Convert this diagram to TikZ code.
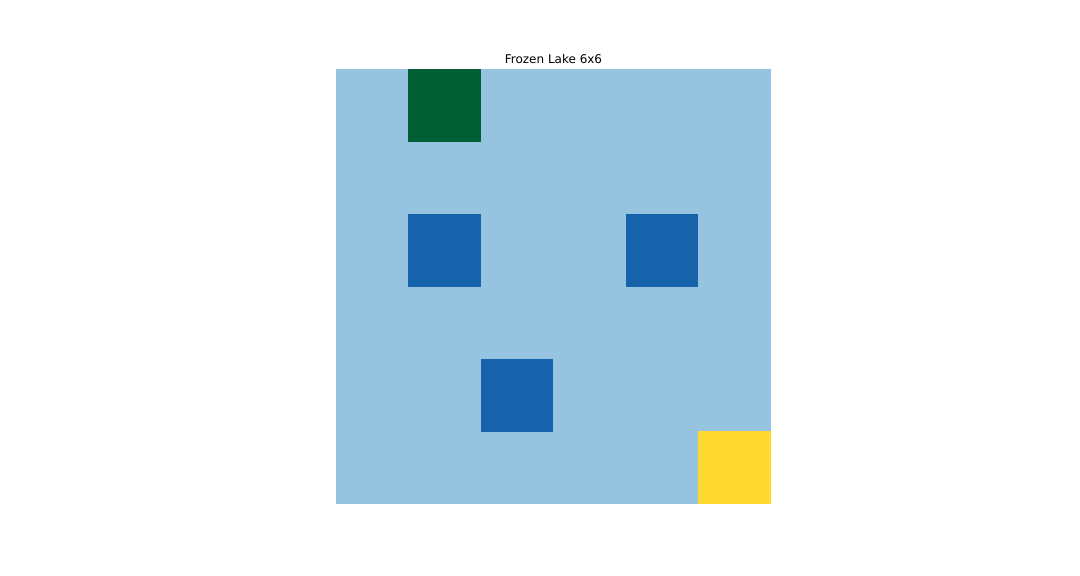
\documentclass[tikz,border=0pt]{standalone}
\usepackage{fontspec}
\setmainfont{DejaVu Sans}
\definecolor{ice}{HTML}{96C3E0}
\definecolor{hole}{HTML}{1763AB}
\definecolor{start}{HTML}{005F33}
\definecolor{goal}{HTML}{FFD92F}

\begin{document}
\begin{tikzpicture}[x=1pt, y=-1pt, cell/.style={fill=#1, draw=none}]
    \useasboundingbox (0,0) rectangle (1080,576);

    % lake
    \coordinate (NW) at (336, 69);
    \fill[ice] (NW) rectangle ++(435, 435);

    % start cell
    \fill[cell=start] (408, 69) rectangle ++(72.5, 72.5);

    % holes
    \foreach \c/\r in {1/2, 4/2, 2/4}
        \fill[cell=hole] ({335.5+72.5*\c}, {69+72.5*\r}) rectangle ++(72.5, 72.5);

    % goal
    \fill[cell=goal] ({335.5+72.5*5}, {68.5+72.5*5}) rectangle ++(73, 73);

    \node[anchor=base, font=\fontsize{12}{14}\selectfont, inner sep=0pt] (title) at (553.5, 63) {Frozen Lake 6x6};
\end{tikzpicture}
\end{document}
